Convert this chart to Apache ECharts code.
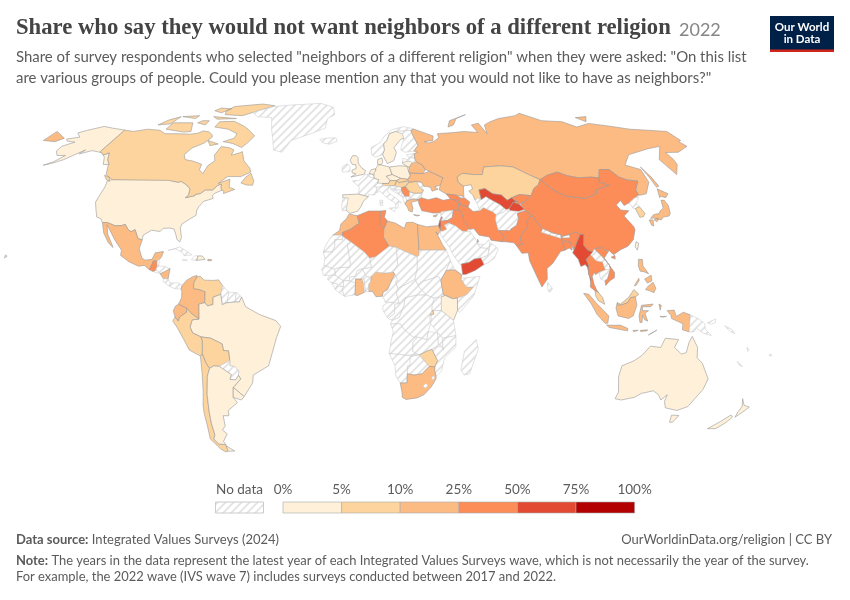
<!DOCTYPE html>
<html><head><meta charset="utf-8">
<style>html,body{margin:0;padding:0;background:#fff}#c{width:850px;height:600px}</style>
<script src="https://cdn.jsdelivr.net/npm/echarts@6/dist/echarts.min.js"></script>
</head><body><div id="c"></div>
<script>
// ---- chart data (share of respondents, %) ----
const binLabels = ['0%','5%','10%','25%','50%','75%','100%'];
const binLimits = [0,5,10,25,50,75,100];
const binColors = ['#fef0d9','#fdd49e','#fdbb84','#fc8d59','#e34a33','#b30000'];
const cream = ['United States','Brazil','Argentina','Uruguay','Australia','New Zealand','Sweden','Germany','Poland','Spain','Kenya','United Kingdom','Netherlands','Czechia','Denmark','Lithuania','Taiwan','Dominican Republic'];
const creamValues = [3,4,3,3,3,3,1,4,4,4,4,4,3,4,2,4,4,4];
const light = ['Canada','Venezuela','Peru','Bolivia','Chile','Kazakhstan','South Korea','Zimbabwe','Malaysia','Slovakia','Austria','Hungary','Romania','Rwanda'];
const lightValues = [8,8,8,9,8,9,8,8,9,8,8,9,9,8];
const mid = ['Mexico','Colombia','Ecuador','Russia','Morocco','Libya','Egypt','Nigeria','Ghana','Ethiopia','South Africa','Indonesia','Japan','Philippines','Ukraine','Belarus','Greece','Nicaragua','Puerto Rico','Cyprus','Qatar'];
const midValues = [14,20,20,14,18,16,14,15,12,15,13,20,15,18,12,14,14,20,15,18,18];
const high = ['Algeria','Tunisia','Turkey','Iran','Iraq','India','Pakistan','China','Mongolia','Bangladesh','Thailand','Vietnam','Guatemala','Lebanon','Jordan','Kyrgyzstan','Armenia','Azerbaijan','Georgia','Serbia'];
const highValues = [30,28,32,35,35,35,38,33,28,35,32,35,45,30,35,32,35,30,30,30];
const highest = ['Myanmar','Yemen','Uzbekistan','Tajikistan','Israel'];
const highestValues = [60,55,55,55,55];

// ---- projection table (Robinson) ----
const robX = [1,.9986,.9954,.99,.9822,.973,.96,.9427,.9216,.8962,.8679,.835,.7986,.7597,.7186,.6732,.6213,.5722,.5322];
const robY = [0,.062,.124,.186,.248,.31,.372,.434,.4958,.5571,.6176,.6769,.7346,.7903,.8435,.8936,.9394,.9761,1];

// ---- country outlines, lon/lat rings ----
const shapes = {
'United States':[[-124.7,48.4,-122.8,49,-95.2,49,-94.6,48.7,-92,48.3,-89.6,48,-88.4,48.3,-84.9,46.9,-83.5,46,-82.5,45.3,-82.1,43,-83.1,42,-79,42.8,-79,43.3,-76.8,43.6,-75,45,-71.5,45,-70,46.7,-68.3,47.3,-67.8,45.7,-67,44.9,-70,43.7,-70.7,42.7,-70,41.7,-74,40.6,-75.5,38.5,-76,37,-75.6,35.3,-78,33.9,-81,32,-81.4,30.5,-80,26.8,-80.4,25.2,-81.8,26,-82.8,28,-84,30,-86,30.4,-89,30.3,-90,29.1,-94,29.6,-97.2,27.7,-97.2,25.9,-99.2,26.4,-101.4,29.8,-103,29,-104.7,30,-106.5,31.8,-108.2,31.3,-111,31.3,-114.8,32.5,-117.1,32.5,-118.5,34,-120.6,34.6,-122.5,37.5,-124.3,40.3,-124.2,43,-124,46.2],
 [-141,69.6,-141,60.3,-137.5,58.9,-135.5,59.8,-133,57,-130,55,-133,55,-136,58,-139.5,59.8,-146,60.7,-151,59.3,-150,61,-153,59,-156,57,-160,55.5,-163.5,54.7,-160,56.2,-157.5,58.7,-162,58.7,-165,60.5,-165.5,62.5,-161,64.3,-166,64.7,-168,65.6,-162,66.5,-166.5,68.3,-163,69.5,-156.5,71.3,-150,70.5],
 [-156,19,-155,19.7,-155.8,20.2]],
'Canada':[[-141,69.6,-135,69,-128,70,-120,69.5,-115,68,-108,68,-100,67.8,-96,68.2,-94,69.2,-90,68.8,-87,67.5,-86,66.5,-88,64,-93,61.8,-94.7,59,-92.5,57,-88,56.4,-82.5,55.1,-82.2,52.9,-79.5,51.3,-79,54.5,-76.6,56.5,-78.5,58.8,-77.5,62.4,-73,62,-69.5,61,-69.5,58.8,-65.5,59.8,-64.5,60.3,-61.5,56.5,-57,53.5,-55.8,52,-60,50.2,-66.5,50.2,-70,47.5,-65,49.2,-64.5,47.5,-64,46,-61,45.2,-65.8,43.6,-66,44.5,-67,44.9,-67.8,45.7,-68.3,47.3,-70,46.7,-71.5,45,-75,45,-76.8,43.6,-79,43.3,-79,42.8,-83.1,42,-82.1,43,-82.5,45.3,-83.5,46,-84.9,46.9,-88.4,48.3,-89.6,48,-92,48.3,-94.6,48.7,-95.2,49,-122.8,49,-127.5,51,-130,54.5,-130,55,-133,57,-135.5,59.8,-137.5,58.9,-141,60.3],
 [-128,50.7,-125,50,-123.5,48.4,-125.5,48.9],[-59,47.7,-56,46.9,-53,46.8,-53,48.5,-55.5,51.5,-57.5,50],
 [-80,73.7,-72,71.5,-68,70,-62,67,-64,64,-66,62,-72,63.7,-78,64.5,-73,66,-73,68,-80,70,-89,71,-89,73.5],
 [-117,70,-105,68.7,-101,69,-105,73,-117,73],[-125,72,-118,72.5,-117,76,-122,74.3],[-90,77,-78,76.5,-72,78.5,-62,82,-72,83.1,-90,81.5,-92,79],[-96,76,-80,75,-80,74.6,-92,74.7],[-87,65,-80,63.5,-84,62.8],[-116,76,-106,75,-106,76.5],[-100,79,-94,78,-90,80,-98,80.5],[-102,73,-96,72,-96,74,-100,74]],
'Greenland':[[-73,78.2,-68,76,-58,75.5,-54,70,-51,66,-48,61,-43,60,-40,65,-30,68,-22,70.5,-22,75,-18,77,-20,81,-30,83.5,-50,82.5,-62,81.5]],
'Mexico':[[-117.1,32.5,-114.8,32.5,-111,31.3,-108.2,31.3,-106.5,31.8,-104.7,30,-103,29,-101.4,29.8,-99.2,26.4,-97.2,25.9,-97.8,22.5,-96,19,-94.5,18.2,-91.5,18.5,-90.5,21,-87,21.5,-87.5,19.5,-88.3,18.5,-89.2,17.9,-91,17.8,-91,17.2,-92.2,14.6,-94.5,16.2,-97,15.9,-101.5,17.6,-105.5,20,-105.5,22,-109.4,26,-112.5,29.5,-114.7,31.7,-113,28,-110,24,-109.5,23,-112,25,-115,28.5]],
'Guatemala':[[-92.2,14.6,-91,17.2,-91,17.8,-89.2,17.9,-88.9,15.9,-89.3,14.4,-90.5,13.9]],
'Belize':[[-89.2,17.9,-88.3,18.5,-88.2,16.2,-88.9,15.9]],
'Honduras':[[-88.9,15.9,-86,15.9,-83.2,15,-85,14,-87.3,13,-89.3,14.4]],
'El Salvador':[[-89.3,14.4,-87.7,13.8,-87.8,13.2,-90,13.7]],
'Nicaragua':[[-87.3,13,-85,14,-83.2,15,-83.7,11,-85.7,11.1]],
'Costa Rica':[[-85.7,11.1,-83.7,11,-82.6,9.5,-83,8.3,-85.7,10]],
'Panama':[[-83,8.3,-82.6,9.5,-79.5,9.6,-77.4,8.7,-77.9,7.2,-80.5,7.3]],
'Cuba':[[-85,21.9,-80,23.2,-74.2,20.2,-77.7,19.9,-78.5,21,-82,22.5]],
'Haiti':[[-74.4,18.4,-72,18.1,-71.7,19.8,-73,19.9]],
'Dominican Republic':[[-72,18.1,-68.4,18.5,-69.8,19.8,-71.7,19.8]],
'Puerto Rico':[[-67.2,18,-65.6,18,-65.6,18.4,-67.2,18.5]],
'Jamaica':[[-78.4,18.3,-76.2,18,-76.4,18.4]],
'Colombia':[[-77.9,7.2,-77.4,8.7,-75.6,10.6,-72.9,12,-71.3,12.4,-71.3,11.8,-72.5,9.5,-72.5,7.4,-70,7,-67.5,6.2,-67.5,3,-67.5,2,-70,1.5,-70,-4.2,-73,-2.3,-75.2,-0.1,-78.8,1.4,-77.5,4,-77.5,6.5]],
'Venezuela':[[-71.3,11.8,-70,12.1,-68,10.6,-64,10.5,-61.9,10.7,-60,8.5,-60.7,5.2,-64,4.1,-64,1.3,-66.3,0.8,-67.5,2,-67.5,3,-67.5,6.2,-70,7,-72.5,7.4,-72.5,9.5]],
'Guyana':[[-60,8.5,-57.2,6,-58,2,-60,1.3,-60.7,5.2]],
'Suriname':[[-57.2,6,-54,5.9,-54.5,2.3,-58,2]],
'French Guiana':[[-54,5.9,-51.7,4.2,-52.7,2.3,-54.5,2.3]],
'Brazil':[[-51.7,4.2,-50,0.5,-44,-2.5,-37,-4.8,-35,-7,-37,-11.5,-39,-17,-41,-22,-48,-25.5,-48.7,-28.5,-53.4,-33.7,-57.6,-30.2,-53.8,-27,-54.6,-25.6,-54.3,-24,-55.8,-22.3,-58,-22,-57.8,-20,-58,-16.3,-60.2,-16.2,-60.5,-13.7,-65.3,-11.5,-69.5,-11,-73,-9.5,-74,-7.3,-73,-4.5,-70,-4.2,-70,1.5,-67.5,2,-66.3,0.8,-64,1.3,-64,4.1,-60.7,5.2,-60,1.3,-58,2,-54.5,2.3,-52.7,2.3]],
'Ecuador':[[-78.8,1.4,-75.2,-0.1,-75.3,-1.6,-78.3,-3.4,-79,-5,-80.3,-3.4,-81,-1,-80,0.8]],
'Peru':[[-80.3,-3.4,-79,-5,-78.3,-3.4,-75.3,-1.6,-75.2,-0.1,-73,-2.3,-70,-4.2,-73,-4.5,-74,-7.3,-73,-9.5,-69.5,-11,-69,-12.5,-69.3,-16,-69.5,-17.5,-70.4,-18.3,-75,-16,-77,-12,-79.5,-7.5,-81.3,-5]],
'Bolivia':[[-69.5,-11,-65.3,-11.5,-60.5,-13.7,-60.2,-16.2,-58,-16.3,-57.8,-20,-58.2,-20.2,-62.6,-22.2,-65,-22,-67,-23,-68.3,-21,-69.5,-17.5,-69.3,-16,-69,-12.5]],
'Paraguay':[[-57.8,-20,-58,-22,-55.8,-22.3,-54.3,-24,-54.6,-25.6,-56,-27.3,-58.6,-27.2,-57.7,-25.3,-62.6,-22.2,-58.2,-20.2]],
'Chile':[[-70.4,-18.3,-69.5,-17.5,-68.3,-21,-67,-23,-68.4,-26,-70,-33,-71,-39.5,-71.7,-44,-72,-48.5,-73.3,-50,-72,-52,-68.5,-52.3,-68.6,-54.8,-70,-55.2,-72,-54,-75,-50,-74,-45,-73.5,-40,-73,-37,-71.5,-32,-70.5,-25]],
'Argentina':[[-67,-23,-65,-22,-62.6,-22.2,-57.7,-25.3,-58.6,-27.2,-56,-27.3,-54.6,-25.6,-53.8,-27,-57.6,-30.2,-58.4,-34,-57,-36,-62,-39,-62.3,-41,-65,-41,-65.5,-45,-67.5,-46.5,-65.8,-48,-69,-51,-68.5,-52.3,-72,-52,-73.3,-50,-72,-48.5,-71.7,-44,-71,-39.5,-70,-33,-68.4,-26],[-68.6,-52.7,-65.3,-54.8,-68.6,-54.9]],
'Uruguay':[[-57.6,-30.2,-53.4,-33.7,-54.9,-35,-58.4,-34]],
'Iceland':[[-24,65.5,-22,64,-18,63.4,-14,64.7,-15,66.2,-20,66]],
'Norway':[[5.2,59,7,58,11,59,12.2,61,12,63.5,14,65,16,68,20,69,25,69.2,29,69.5,31,70.2,25,71.2,18,69.8,13,67,10,64,5,62]],
'Sweden':[[11,59,13,55.4,16.5,56.5,18.5,60,17.5,62,22,65.5,24,66,23.5,68,20,69,16,68,14,65,12,63.5,12.2,61]],
'Finland':[[24,66,22,63,21,61,23,60,28,60.5,31,63,29.5,67,29,69.5,25,69.2,20,69,23.5,68]],
'Denmark':[[8,55,8.2,57,10.5,57.7,10.8,56,10,55]],
'United Kingdom':[[-5.5,50,1.3,51.2,1.7,52.7,0,53.5,-1.5,55,-2,56,-2,57.6,-3,58.6,-5,58.6,-6.2,56.8,-5,55,-3.2,54.9,-3,53.4,-5,52.8,-5,51.7,-3,51.3]],
'Ireland':[[-10,52,-6.2,52.2,-6,54,-7.5,55.3,-10,54.2]],
'France':[[-4.7,48.5,-1.5,48.7,1.5,50.9,2.5,51,4,50,6,49.5,8.2,49,7.6,47.6,6,46.3,7,45.9,6.8,44,6,43,3,43.2,3,42.4,-1.8,43.4,-1.2,46]],
'Spain':[[-9.2,43.1,-1.8,43.4,3,42.4,0.5,40.5,-0.3,38.8,-2,36.8,-5.5,36,-7.3,37.2,-7,39.5,-6.5,41.8,-8.9,41.9]],
'Portugal':[[-8.9,41.9,-6.5,41.8,-7,39.5,-7.3,37.2,-9,37,-9.5,38.8]],
'Belgium':[[2.5,51,4,51.4,6,50.7,6,49.5,4,50]],
'Netherlands':[[3.5,51.4,4.7,53,7,53.3,7,52,6,50.8,4,51.4]],
'Germany':[[7,53.5,8.5,54.9,10,54.8,14,54,15,51,12,50.3,13.8,48.7,13,47.5,9.6,47.5,7.6,47.6,8.2,49,6,49.5,6,50.7,6,51.8,7,52.5]],
'Poland':[[14,54,19,54.5,23,54.3,23.5,52,24,50.5,22.5,49.1,19,49.5,15,51]],
'Czechia':[[12,50.3,15,51,19,49.5,17,48.6,13.8,48.7]],
'Slovakia':[[17,48.6,19,49.5,22.5,49.1,22,48.4,18,47.8]],
'Austria':[[9.6,47.5,13,47.5,13.8,48.7,17,48.6,16,46.8,13,46.5,10.4,46.6]],
'Hungary':[[16,46.8,17,48.6,18,47.8,22,48.4,22.9,48,21,46.2,19,45.9,16.5,46.4]],
'Switzerland':[[6,46.3,7.6,47.6,9.6,47.5,10.4,46.6,8.5,46]],
'Italy':[[6.8,44,7,45.9,10.4,46.6,13.7,46.5,12.3,45,12.5,44,16,41.8,18.4,40,16.9,40.4,16.6,38,15.7,38,15.5,40,12.5,41.5,10.5,43,8.8,44.4],[12.5,38,15.5,38.2,15,36.7],[8.3,41,9.7,41,9.6,39,8.5,39]],
'Croatia':[[13.7,45.2,13.7,45.5,15.5,45.5,16.5,46.4,19,45.9,19,45,16,45,18.5,42.6,15,44.5]],
'Slovenia':[[13.7,45.5,13.7,46.5,16.5,46.4,15.5,45.5]],
'Bosnia':[[16,45,19,45,19.2,44,18.5,42.6]],
'Montenegro':[[18.5,42.6,19.2,44,20.5,42.4,19.3,42]],
'Serbia':[[19,45.9,21,46.2,22.7,44.3,22.4,42.4,20.5,42.4,19.2,44,19,45]],
'Albania':[[19.3,42.5,20.5,42.4,21,40.8,20,39.6,19.3,41]],
'North Macedonia':[[20.5,42.4,22.4,42.4,23,41.4,21,40.8]],
'Bulgaria':[[22.7,44.3,25,43.7,28.6,43.8,28,42,26.3,41.3,24,41.5,22.4,42.4]],
'Romania':[[21,46.2,22.9,48,26.6,48.3,28.2,45.5,29.5,45,28.6,43.8,25,43.7,22.7,44.3]],
'Moldova':[[26.6,48.3,29,48,30,46.4,28.2,45.5]],
'Greece':[[20,39.5,21,40.8,24,41.5,26.3,41.3,26,40.8,23,40.3,23.5,38,23,36.5,21.5,37,21,38.3],[23.5,35.5,26.3,35.2,25,35]],
'Cyprus':[[32.3,35,34.5,35.6,33.5,34.6]],
'Ukraine':[[22.5,49.1,24,50.5,24,51.7,30.5,51.4,34,52.3,40,49.7,38.5,47,35,46.2,36.5,45.3,33.5,44.5,33,46,30.7,46.4,30,46.4,29,48,26.6,48.3,22.9,48]],
'Belarus':[[23.5,52,24,53.9,26,55.7,28.2,56.1,31,54.8,32,53,30.5,51.4,24,51.7]],
'Lithuania':[[21,56,25,56.4,26,55.7,24,53.9,23,54.3,21,55.3]],
'Latvia':[[21,56,21.5,57.5,24,57,25,58,27.6,57.5,28.2,56.1,26,55.7,25,56.4]],
'Estonia':[[23.5,59,28,59.5,27.6,57.6,25,58,24.3,58.3]],
'Russia':[[28,59.5,30,60,28,60.5,31,63,29.5,67,29,69.5,31,70,41,67,40,65,35,64.5,37,63.9,40.5,64.6,44,66.3,44,68,54,68.5,60,69,68,68.5,67,72,72,72.8,73,68,75,72,80,73.5,87,75,100,76.5,104.5,77.7,113,74,125,73.5,130,71,140,72.7,150,71.5,160,70,170,69.5,180,69,180,65,178,64.5,179,62.5,170,60,163,59.9,163,57,162,55,156.8,51,155.5,57,164,62.5,156,61.5,142,59,135,54.8,141,53,140,48,135,43.5,132,43,131,43,131,45,135,48.4,130,48.9,127,50,125,53,120,53,117,49.7,113,50,107,49.7,102,50.5,98,52,92,50.7,87.5,49,83,51,77,54,71,54.5,62,54,60,51,55,51,50,51.5,47,49.9,47,48,49,46.5,48,42,47.5,42.6,44.5,43,40,43.4,37,45,38,47,40,49.7,34,52.3,32,53,31,54.8,28.2,56.1,27.6,57.5],
 [-180,69,-170,66,-172.5,64.5,-180,65],[142,54,143,50,143.5,46.5,142,46,142,50],[52,71,55,74,68,77,60,75,56,72],[137,75.5,145,76,140,73.5]],
'Georgia':[[40,43.4,44.5,43,46.5,41.9,45.3,41,43.5,41.1,41.5,41.5]],
'Armenia':[[43.5,41.1,45.3,41,46.5,39,44.8,39.7]],
'Azerbaijan':[[45.3,41,46.5,41.9,48.5,41.8,50.3,40.3,49,38.4,46.5,39]],
'Turkey':[[26.3,41.3,28,42,31,41.2,35,42,38,41,41.5,41.5,43.5,41.1,44.8,39.7,44.8,37.2,42,37.2,36.5,36.6,36,36.2,32.5,36.1,30.5,36.5,27.5,37,26.5,39.5]],
'Syria':[[36,36.2,36.5,36.6,42,37.2,41,34.4,38.8,33.4,36,33,35.9,33.3,36.5,34.5,36,34.7]],
'Lebanon':[[35.1,33.1,35.9,33.3,36.5,34.5,36,34.7]],
'Israel':[[34.3,31.3,35,29.5,35.5,31.5,35.7,33.2,35.1,33.1]],
'Jordan':[[35,29.5,36,29.2,38,30,37,31.5,39,32.3,38.8,33.4,36,33,35.5,31.5]],
'Iraq':[[38.8,33.4,41,34.4,42,37.2,44.8,37.2,46,35.7,46,33,47.7,31,48.6,30,47.7,30,46.5,29.1,44.7,29.2,42,31.2,39,32.3]],
'Iran':[[44.8,39.7,46.5,39,49,38.4,51,36.7,54,37,56,38.2,60,36.6,61.2,35.6,60.5,33.5,60.8,30,61,29.5,63.3,27,61.6,25.2,57,25.8,56.5,27,52,27.7,50,30.2,48.6,30,47.7,31,46,33,46,35.7,44.8,37.2]],
'Saudi Arabia':[[34.9,29.4,36,29.2,38,30,37,31.5,39,32.3,42,31.2,44.7,29.2,46.5,29.1,48.3,29,50,26.5,51,24.5,52,23,55.2,22.7,55.7,22,55,20,52,19,49,18.6,46.5,17.3,43.2,16.7,42.7,16.4,40,20,38.5,23,36,26.5,34.9,28]],
'Kuwait':[[46.5,29.1,47.7,30,48.3,29]],
'Yemen':[[43.2,16.7,46.5,17.3,49,18.6,52,19,53.1,16.6,49,14.3,45,12.8,43.5,12.7]],
'Oman':[[52,19,55,20,55.7,22,56.3,24.9,58.5,23.6,59.8,22.4,57.8,19,55,17.2,53.1,16.6]],
'UAE':[[51,24.2,52,23,55.2,22.7,55.7,22,56.3,24.9,56,26,54,24.2]],
'Qatar':[[50.8,24.8,51.5,25.2,51.2,26.1,50.8,25.9]],
'Kazakhstan':[[47,48,47,49.9,50,51.5,55,51,60,51,62,54,71,54.5,77,54,83,51,87.5,49,85.5,47,82.5,45.5,80,42.8,74.5,43.2,70.5,42,68,41,66,43,62,43.5,59,45.5,56,45,56,41.3,53,41,52.5,43,51,44.5,53,45.3,53,47,49,46.5]],
'Turkmenistan':[[53,41,54.5,41.8,56,41.3,58.5,42.5,61,41,64,39.5,66.5,37.4,64.5,36.3,61.2,35.6,60,36.6,56,38.2,54,37,53.8,39]],
'Uzbekistan':[[56,45,59,45.5,62,43.5,66,43,68,41,70.5,42,71.5,41,73,40.6,70.5,40.2,68,38,66.5,37.4,64,39.5,61,41,58.5,42.5,56,41.3]],
'Kyrgyzstan':[[70.5,42,74.5,43.2,80,42.8,76,40.4,73,39.5,70,40,73,40.6,71.5,41]],
'Tajikistan':[[68,38,70.5,40.2,70,40,73,39.5,75,37.5,72,36.7,68,37]],
'Afghanistan':[[61.2,35.6,64.5,36.3,66.5,37.4,68,37,72,36.7,75,37.5,71,36,71,34,69.5,31.5,66.5,30,66,29.4,61,29.5,60.8,30,60.5,33.5]],
'Pakistan':[[61,29.5,66,29.4,66.5,30,69.5,31.5,71,34,71,36,75,37,77.5,35.5,74.5,33,74.5,31,71,28,70,26,71,24.4,68,23.7,67,24.8,63.3,25.2,61.6,25.2,63.3,27]],
'India':[[77.5,35.5,79,32.5,81,30.2,80,28.8,88,26.5,88.2,27.9,89,26.7,92,26.8,92,27.9,95,29,97,28,94.8,25,93,22,92.2,24,92,25,89.8,25.3,89,22,87,21.5,83,17,80.2,15,80,11,77.5,8,76,11,73,18,72.8,21,70,20.8,68.8,22.5,68,23.7,71,24.4,70,26,71,28,74.5,31,74.5,33]],
'Nepal':[[80,28.8,81,30.2,85,28.5,88.2,27.9,88,26.5]],
'Bhutan':[[89,27.3,92,27.9,92,26.8,89,26.7]],
'Bangladesh':[[88.2,26.3,89,26,89.8,25.3,92,25,92.2,22,91,22.8,89,22]],
'Sri Lanka':[[80,9.7,82,7.5,81,6,80,6.5]],
'China':[[73.7,39.5,76,40.4,80,42.8,82.5,45.5,85.5,47,87.5,49,91,45.5,96,42.7,105,41.7,111.5,43.7,112,45,119.5,46.8,115.7,48,117,49.7,120,53,125,53,127,50,130,48.9,135,48.4,131,45,131,43,128,41.8,124.3,40,121.5,39,121,40.9,118,39.2,119,37.3,122.6,37,119.3,35,121.9,31,122,29.8,120,26,117,23.5,113.5,22.2,110,20.3,108.5,21.7,106.5,22,105.5,23,102,22.5,101.2,21.3,99,22,97.5,24,98.6,28,97,28,95,29,92,27.9,88.9,27.3,88.2,27.9,85,28.5,81,30.2,79,32.5,77.5,35.5,75,37],[108.7,19.3,110.5,20,110.4,18.6]],
'Mongolia':[[87.5,49,92,50.7,98,52,102,50.5,107,49.7,113,50,117,49.7,115.7,48,119.5,46.8,112,45,111.5,43.7,105,41.7,96,42.7,91,45.5]],
'Taiwan':[[121,25.2,122,24.6,120.8,22,120.1,23.3]],
'North Korea':[[124.3,40,128,41.8,130.5,42.3,127.5,39.7,128.3,38.6,126,37.8,125,38]],
'South Korea':[[126,37.8,128.3,38.6,129.4,36,128,34.7,126.3,34.5]],
'Japan':[[130.9,34,133,35.5,136,36,137,37,139,38,140,41,141.5,41,142,39,141,36,139.8,35,137,34.6,135.5,33.5,132.5,34.3],[130,33.5,131.8,33.5,131,31.2,130.2,31.5],[132.3,33.7,134.5,34.2,134,33.3,133,32.8],[140.2,42,141.7,45.4,145.3,43.5,143,42,141,42.6]],
'Myanmar':[[92.2,21,93,22,94.8,25,97,28,98.6,28,97.5,24,99,22,101.2,21.3,100,20.3,97.8,18.5,98.5,16,98,13,99,11,98.6,10,97.8,15.5,97,16.5,95,15.8,94.3,18.5]],
'Thailand':[[97.8,18.5,100,20.3,102,18,104.7,17.5,105.5,14.5,102.5,13.5,101,12.7,100.5,13.5,99.5,12,100,9,101,6.8,101.8,5.8,100.3,6.5,98.3,8,98.6,10,99,11,98,13,98.5,16]],
'Laos':[[100,20.3,101.2,21.3,102,22.5,105,19.5,107.5,16.3,107.6,14.7,105.5,14.5,104.7,17.5,102,18]],
'Cambodia':[[102.5,13.5,105.5,14.5,107.6,14.7,106,11,104.5,10.5,103,11]],
'Vietnam':[[102,22.5,105.5,23,106.5,22,108,21.5,105.7,19,107,17,109.3,13.5,109,11.5,106.8,10.3,105,8.6,104.8,10.3,106,11,107.6,14.7,107.5,16.3,105,19.5]],
'Malaysia':[[100.3,6.5,101.8,5.8,103.4,4,104.2,1.4,101.5,2.8,100.5,4.5],[109.6,2,111,1.5,114.5,4,117,7,119,5.2,117.5,4.2,115.5,4,114,2,111.5,1.2,110,1]],
'Indonesia':[[95.3,5.6,97.5,5.2,100.5,2,103.8,-1,106,-3,105.7,-5.8,104.5,-5.8,101,-2.5,98.5,1.5],[105.2,-6.5,108.5,-6.6,111,-6.5,114.5,-7.8,114.4,-8.7,110,-8,106.4,-7.4],[109.6,2,110,1,111.5,1.2,114,2,115.5,4,117.5,4.2,118,1,116.5,-3,114.5,-4,110,-3,109,0],[119.5,-5.5,120.4,-5.5,120.5,-2.8,121.5,-4.5,122.8,-5,121.5,-2,123,-1,120.5,-1,120.3,0.5,124,0.5,125,1.5,120,1,119,-3],[131,-1,134,-0.8,135,-3.2,138,-1.6,141,-2.6,141,-9.1,138,-8.3,138,-6,133,-4,132.7,-2.8],[116.7,-8.5,119,-8.5,119,-8.8,117,-9],[119.9,-8.5,123,-8.3,122.8,-8.7,120,-8.9],[123.5,-10.3,127,-8.4,125,-9.5],[127.5,1.5,128.5,1,128,-0.8],[128,-3.2,130.8,-3.2,129,-3.5]],
'Papua New Guinea':[[141,-2.6,145,-4.3,147.5,-6,147.8,-8,150.7,-10.5,147,-9.5,144,-7.7,143,-9.1,141,-9.1],[148.5,-5.6,152,-4.2,152,-5.5,150,-6.2]],
'Solomon Islands':[[156,-6.8,159,-8,160.8,-9.8,158.5,-8.8]],
'Vanuatu':[[167,-15,167.5,-16.5,168.2,-16]],
'Fiji':[[177.5,-17.5,178.6,-18,177.5,-18.3]],
'New Caledonia':[[164,-20.3,167,-22.3,165.5,-21.8]],
'Philippines':[[120.5,18.5,122.2,18.5,122,16,124,13,122,13.8,120.5,14,120,16],[122,7,123.5,8.5,125.5,9.8,126.5,7.5,125.5,5.8,124,6.5],[122,11,123,11.5,125,12.5,125,10.3,123,9.5],[117.3,8.4,119.5,11.3,119.6,10.5,118,8.6]],
'Australia':[[114,-22,113.5,-26,115.5,-32,115,-34.5,118,-35,123.5,-34,126,-32.5,131,-31.5,134,-33,136,-35,138,-33,138,-35.5,140,-38,146,-39,150,-37.5,153,-31,153.5,-27,149,-21,146.2,-19,145.5,-15,142.5,-10.8,141.5,-13,141,-17,139,-17.5,135.5,-15,136.8,-12,131,-11.5,129.5,-15,125,-14.5,122,-18,119,-20],[144.8,-40.8,148.3,-40.9,147.5,-43.5,146,-43.5]],
'New Zealand':[[166.5,-46,170.5,-46,173,-43.5,174,-41.5,172.5,-40.7,170,-43.2],[173,-34.5,175.5,-37,178.5,-37.7,177,-39.5,175.2,-41.6,174.7,-39.5,175,-37.5]],
'Morocco':[[-5.9,35.8,-2.2,35.1,-1.2,32.2,-3.5,31,-5,30,-8.7,28.7,-8.7,27.7,-13,27.7,-10,29.5,-9.5,32,-7,34]],
'Western Sahara':[[-13,27.7,-8.7,27.7,-8.7,26,-12,26,-12,23.4,-13,21.3,-17,21.3,-16,23.7,-14.5,26]],
'Algeria':[[-8.7,28.7,-8.7,27.3,-4.8,25,1.2,21.1,3.3,18.9,6,19.5,12,23.5,9.5,27,9.8,30,8,32,8.5,36.9,3,36.9,-2.2,35.1,-1.2,32.2,-3.5,31,-5,30]],
'Tunisia':[[8.5,36.9,11,37.1,10.2,34.5,11.5,33.1,9.8,30,8,32]],
'Libya':[[11.5,33.1,15,32.3,19,30.3,20,32.5,23,32.6,25,31.8,25,22,25,20,24,19.5,15,23,12,23.5,9.5,27,9.8,30]],
'Egypt':[[25,31.8,29,30.9,32.3,31.2,34.3,31.3,35,29.5,33.7,27.8,33,29,35.5,24,37,22,25,22]],
'Sudan':[[25,22,37,22,38.5,18,36.5,14.3,34,10.5,33,12,26,10,24,8.8,22.8,11,24,15.5,24,19.5,25,20]],
'South Sudan':[[24,8.8,26,10,33,12,34,10.5,35,5,31,3.7,27.5,5,24.5,8]],
'Eritrea':[[36.5,14.3,38.5,18,40,15,43,12.7,40,14.5]],
'Ethiopia':[[36.5,14.3,40,14.5,43,12.7,42.8,11,45,8,48,8,45,5,42,4,41,3.8,39,3.5,35.8,4.8,35,5,34,10.5]],
'Somalia':[[43,11.3,51,12,48,4.5,42,-1.7,41,-1,41,3.8,42,4,45,5,48,8,45,8,42.8,11]],
'Kenya':[[34,4.2,35.8,4.8,39,3.5,41,3.8,41,-1,39.3,-4.7,34,-1,34,1]],
'Uganda':[[30,-1,34,-1,34,4.2,31,3.7,30,1]],
'Tanzania':[[30,-1,34,-1,39.3,-4.7,40.5,-10.5,34.8,-11.5,32.5,-9.3,29.5,-6]],
'Rwanda':[[29,-2.8,30.8,-2.4,30.5,-1,29.5,-1.4]],
'Mozambique':[[34.8,-11.5,40.5,-10.5,40.7,-14.8,36,-19,35,-24,32.8,-26,32,-24,32,-22.4,33,-20,30.3,-15.7,33,-14.5,35,-15]],
'Malawi':[[33,-14,32.5,-9.3,34.8,-11.5,35,-15,35.5,-16,34.5,-14.5]],
'Zambia':[[22,-13,24,-11,28,-12,28.5,-9,32.5,-9.3,33,-14,30.3,-15.7,28,-16.5,25,-17.8,22,-16.5]],
'Zimbabwe':[[25,-17.8,28,-16.5,30.3,-15.7,33,-20,32,-22.4,29.5,-22.2,26,-19]],
'Botswana':[[20,-18,25,-17.8,26,-19,29.5,-22.2,26.5,-25,23,-25.5,20,-25,20,-22,21,-22]],
'Namibia':[[11.8,-17.3,14,-17.4,20,-18,25,-17.8,21,-18.5,21,-22,20,-22,20,-28.5,17,-28.5,15,-26,14.5,-22]],
'South Africa':[[17,-28.5,20,-28.5,20,-25,23,-25.5,26.5,-25,29.5,-22.2,32,-22.4,32,-24,32.8,-26,32.8,-27,31,-30,28,-33,25,-34.2,20,-34.8,18.3,-34,18,-32]],
'Lesotho':[[27.2,-29.5,28.5,-28.7,29.4,-29.5,28.3,-30.5]],
'Eswatini':[[31,-26,32,-26,32,-27,31,-27.2]],
'Angola':[[11.8,-17.3,12.5,-13,13.5,-9,12.3,-6,16.5,-6,18,-8,22,-11,24,-11,22,-13,22,-16.5,23.5,-17.5,20,-18,14,-17.4]],
'DR Congo':[[12.3,-6,13,-4.7,16,-3.5,18,1,18.5,4,24,5,27.5,5,31,3.7,30,1,30,-1,29,-2.8,29.5,-6,28.5,-9,28,-12,24,-11,22,-11,18,-8,16.5,-6]],
'Congo':[[11.2,-4,14,-2,14,1.3,16,1.8,18.5,4,18,1,16,-3.5,13,-4.7]],
'Gabon':[[9,0.8,11.3,2.2,13.3,2.2,14,1.3,14,-2,11.2,-4,9,-1]],
'Cameroon':[[8.7,4.5,9.8,3,9.8,2.2,13.3,2.2,16,1.8,15,5,14.8,6,15.5,7.5,14.5,10,15.5,10.5,14.2,12.8,13,11,11,7,9,6]],
'Central African Republic':[[14.8,6,15,5,16,1.8,18.5,4,24,5,27.5,5,24.5,8,24,8.8,22.8,11,19,9,15.5,7.5]],
'Chad':[[15,23,24,19.5,24,15.5,22.8,11,19,9,15.5,7.5,14.5,10,15.5,10.5,14.2,12.8,13.5,13.7,15.5,16.5]],
'Nigeria':[[2.8,6.3,4.5,6.3,6,4.3,8.7,4.5,9,6,11,7,13,11,14.2,12.8,13.5,13.7,10,13.3,6,13.7,4,12,3.6,10,2.8,9]],
'Niger':[[0,14.9,2,11.9,3.6,11.7,4,12,6,13.7,10,13.3,13.5,13.7,15.5,16.5,15,23,12,23.5,6,19.5,3.3,18.9,4,15.5]],
'Mali':[[-12,14.8,-11.3,12.3,-8,10.3,-5.5,10.4,-5.3,11.8,-3,12,-2,14.2,0,14.9,4,15.5,3.3,18.9,1.2,21.1,-4.8,25,-6.5,24,-5,16.3,-5.5,15.5,-10,15.4]],
'Mauritania':[[-17,21.3,-13,21.3,-12,23.4,-12,26,-8.7,26,-8.7,27.3,-4.8,25,-6.5,24,-5,16.3,-5.5,15.5,-10,15.4,-12,14.8,-16.5,16.2,-16.2,19]],
'Senegal':[[-17.5,14.7,-16.5,16.2,-12,14.8,-11.3,12.3,-16.7,12.4]],
'Guinea':[[-15,11,-13.7,12.6,-11.3,12.3,-8,10.3,-8,8,-10.5,9,-13.2,9.7]],
'Sierra Leone':[[-13.2,9.7,-10.5,9,-10.7,8.4,-11.4,6.9]],
'Liberia':[[-11.4,6.9,-10.7,8.4,-8,8,-8.5,7,-7.5,4.4]],
'Ivory Coast':[[-8,8,-8,10.3,-5.5,10.4,-2.8,9.5,-3,5,-7.5,4.4,-8.5,7]],
'Burkina Faso':[[-5.5,10.4,-5.3,11.8,-3,12,-2,14.2,0,14.9,2,11.9,0,11,-2.8,11,-2.8,9.5]],
'Ghana':[[-2.8,11,0,11,0.5,10,1.1,6,-2,4.7,-3,5,-2.8,9.5]],
'Togo':[[0.5,10,0,11,0.9,11,1.6,6.2,1.1,6]],
'Benin':[[0.9,11,2,11.9,3.6,11.7,3.6,10,2.8,9,2.8,6.3,1.6,6.2]],
'Madagascar':[[49.3,-12,50.5,-15.5,47.5,-25,45,-25.5,43.5,-23.5,44.5,-16.5]]
};

// ---- text ----
const titleText = 'Share who say they would not want neighbors of a different religion';
const yearText = '2022';
const subtitleLines = ['Share of survey respondents who selected "neighbors of a different religion" when they were asked: "On this list','are various groups of people. Could you please mention any that you would not like to have as neighbors?"'];
const noteLines = ['{b|Note:} The years in the data represent the latest year of each Integrated Values Surveys wave, which is not necessarily the year of the survey.','For example, the 2022 wave (IVS wave 7) includes surveys conducted between 2017 and 2022.'];

// ---- projection: Robinson, scaled to the page ----
const CX=362, KX=2.33, CY=308, KY=212;
function rob(lat){
  const a=Math.min(Math.abs(lat),89.999)/5, i=Math.floor(a), f=a-i;
  return [robX[i]+(robX[i+1]-robX[i])*f, (robY[i]+(robY[i+1]-robY[i])*f)*(lat<0?-1:1)];
}
const project=p=>{const r=rob(p[1]);return [CX+KX*r[0]*p[0], CY-KY*r[1]];};
const unproject=p=>{const lat=(CY-p[1])/KY*90;const r=rob(lat);return [(p[0]-CX)/KX/r[0],lat];};

// ---- build map ----
const features=Object.keys(shapes).map(n=>({type:'Feature',properties:{name:n},geometry:{type:'MultiPolygon',
  coordinates:shapes[n].map(fl=>{const ring=[];for(let i=0;i<fl.length;i+=2)ring.push([fl[i],fl[i+1]]);ring.push(ring[0].slice());return [ring];})}}));
echarts.registerMap('world',{type:'FeatureCollection',features});

let minX=1e9,minY=1e9,maxX=-1e9,maxY=-1e9;
Object.values(shapes).forEach(rs=>rs.forEach(fl=>{for(let i=0;i<fl.length;i+=2){const q=project([fl[i],fl[i+1]]);
  minX=Math.min(minX,q[0]);maxX=Math.max(maxX,q[0]);minY=Math.min(minY,q[1]);maxY=Math.max(maxY,q[1]);}}));

function colorOf(v){for(let i=0;i<binColors.length;i++)if(v<binLimits[i+1])return binColors[i];return binColors[binColors.length-1];}
const groups=[[cream,creamValues],[light,lightValues],[mid,midValues],[high,highValues],[highest,highestValues]];
const mapData=[];
groups.forEach(g=>g[0].forEach((n,i)=>mapData.push({name:n,value:g[1][i],itemStyle:{areaColor:colorOf(g[1][i]),borderColor:'#999',borderWidth:.6}})));

// hatch pattern for "No data"
const pc=document.createElement('canvas');pc.width=8;pc.height=8;
const px=pc.getContext('2d');px.fillStyle='#fff';px.fillRect(0,0,8,8);px.strokeStyle='#e2e2e2';px.lineWidth=1.7;
[[-2,2,2,-2],[0,8,8,0],[6,10,10,6]].forEach(l=>{px.beginPath();px.moveTo(l[0],l[1]);px.lineTo(l[2],l[3]);px.stroke();});
const hatch={image:pc,repeat:'repeat'};

// ---- legend + text as graphic elements ----
const G=[];
const F='Lato, sans-serif', T='#5b5b5b';
const txt=(x,y,text,o)=>G.push({type:'text',x,y,silent:true,style:Object.assign({text,fill:T,font:'14px '+F,textVerticalAlign:'middle'},o||{})});
txt(16,28,titleText,{fill:'#444',font:'bold 22.7px "Liberation Serif", serif'});
txt(679,30,yearText,{fill:'#858585',font:'18px '+F});
subtitleLines.forEach((s,i)=>txt(16,57+i*21.5,s,{font:'14.95px '+F}));
// logo
G.push({type:'rect',shape:{x:770,y:16,width:64,height:36},style:{fill:'#002147'},silent:true});
G.push({type:'rect',shape:{x:770,y:49.5,width:64,height:2.5},style:{fill:'#ce261e'},silent:true});
txt(802,27,'Our World',{fill:'#fff',font:'bold 11.5px '+F,textAlign:'center'});
txt(802,39,'in Data',{fill:'#fff',font:'bold 11.5px '+F,textAlign:'center'});
// legend
const LX=283, LW=58.6, LY=502, LH=11;
txt(239.5,490,'No data',{textAlign:'center',font:'13.5px '+F});
G.push({type:'rect',shape:{x:215.5,y:LY,width:48,height:LH},style:{fill:hatch,stroke:'#ccc',lineWidth:1},silent:true});
binColors.forEach((c,i)=>G.push({type:'rect',shape:{x:LX+i*LW,y:LY,width:LW,height:LH},style:{fill:c,stroke:'#aaa',lineWidth:.6},silent:true}));
binLabels.forEach((s,i)=>txt(LX+i*LW,490,s,{textAlign:'center',font:'13.5px '+F}));
// footer
txt(16,540,'{b|Data source:} Integrated Values Surveys (2024)',{font:'13px '+F,rich:{b:{font:'bold 13px '+F,fill:T}}});
txt(832,540,'OurWorldinData.org/religion | CC BY',{font:'13px '+F,textAlign:'right'});
noteLines.forEach((s,i)=>txt(16,561+i*16,s,{font:'12.95px '+F,rich:{b:{font:'bold 12.95px '+F,fill:T}}}));

const chart=echarts.init(document.getElementById('c'),null,{renderer:'canvas'});
chart.setOption({
  animation:false,
  backgroundColor:'#fff',
  series:[{type:'map',map:'world',roam:false,silent:true,projection:{project,unproject},
    left:minX,top:minY,width:maxX-minX,height:maxY-minY,
    label:{show:false},emphasis:{disabled:true},select:{disabled:true},
    itemStyle:{areaColor:hatch,borderColor:'#cfcfcf',borderWidth:.6},
    data:mapData}],
  graphic:{elements:G}
});
</script></body></html>
